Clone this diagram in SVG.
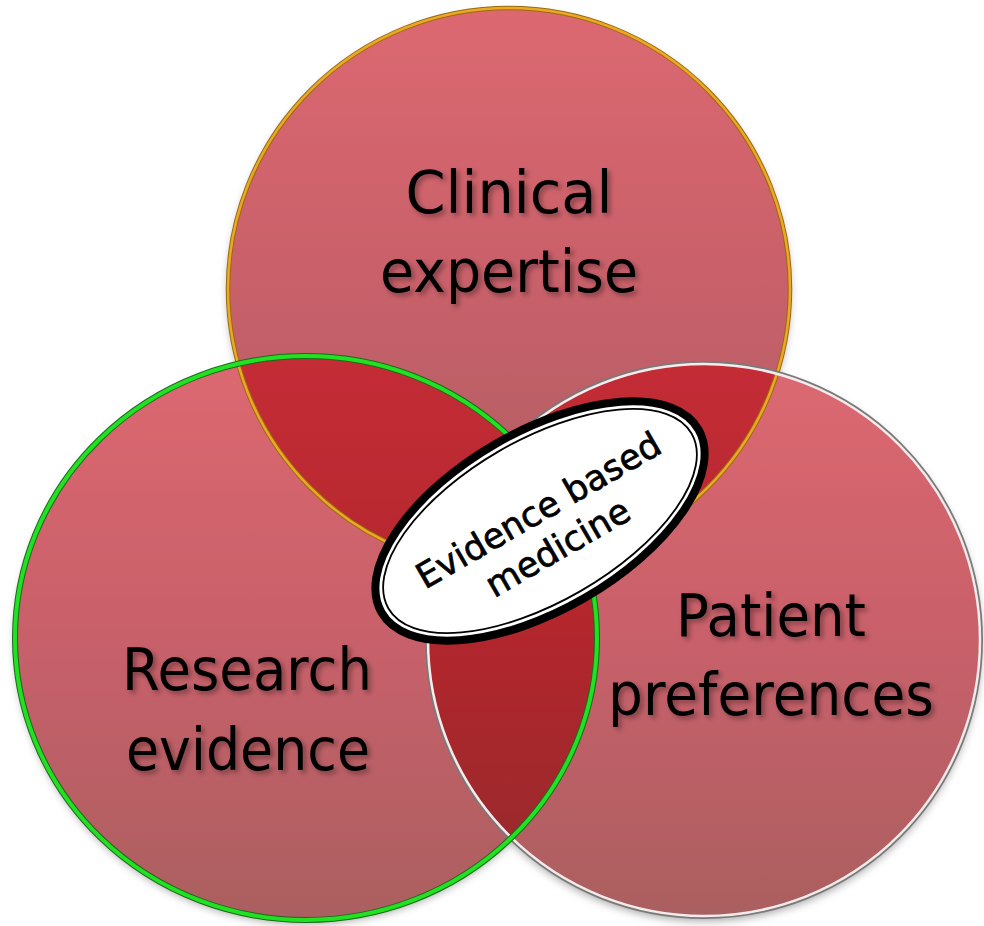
<svg xmlns="http://www.w3.org/2000/svg" width="984" height="926" viewBox="0 0 984 926">
<defs>
<style>
.lbl{font-family:"DejaVu Sans","Liberation Sans",sans-serif;font-size:58px;fill:#000;text-anchor:middle;filter:url(#tshadow)}
.ebm{font-family:"DejaVu Sans","Liberation Sans",sans-serif;font-size:35px;fill:#000;stroke:#000;stroke-width:0.7;text-anchor:middle}
</style>
<linearGradient id="gFill" x1="0" y1="0" x2="0" y2="1">
<stop offset="0" stop-color="#dc6870"/>
<stop offset="0.5" stop-color="#c8606a"/>
<stop offset="1" stop-color="#ab5f60"/>
</linearGradient>
<linearGradient id="gOver" gradientUnits="userSpaceOnUse" x1="0" y1="360" x2="0" y2="900">
<stop offset="0" stop-color="#c42c36"/>
<stop offset="0.5" stop-color="#b2262c"/>
<stop offset="1" stop-color="#952a2c"/>
</linearGradient>
<clipPath id="cTop"><circle cx="509" cy="289" r="281"/></clipPath>
<clipPath id="cLeft"><ellipse cx="306" cy="638" rx="291" ry="282"/></clipPath>
<filter id="tshadow" x="-10%" y="-20%" width="130%" height="150%">
<feDropShadow dx="3" dy="3" stdDeviation="2.5" flood-color="#000" flood-opacity="0.35"/>
</filter>
<filter id="cshadow" x="-10%" y="-10%" width="120%" height="125%">
<feDropShadow dx="0" dy="4" stdDeviation="4" flood-color="#000" flood-opacity="0.35"/>
</filter>
</defs>
<rect width="984" height="926" fill="#fff"/>
<g id="fills" filter="url(#cshadow)">
<circle id="top-fill" cx="509" cy="289" r="281" fill="url(#gFill)"/>
<ellipse id="left-fill" cx="306" cy="638" rx="291" ry="282" fill="url(#gFill)"/>
<circle id="right-fill" cx="704" cy="640" r="277" fill="url(#gFill)"/>
</g>
<g id="overlaps" fill="url(#gOver)">
<g clip-path="url(#cTop)">
<ellipse cx="306" cy="638" rx="291" ry="282"/>
<circle cx="704" cy="640" r="277"/>
</g>
<g clip-path="url(#cLeft)">
<circle cx="704" cy="640" r="277"/>
</g>
</g>
<g id="clinical-expertise">
<circle cx="509" cy="289" r="281" fill="none" stroke="#9a6a10" stroke-width="4.5"/>
<circle cx="509" cy="289" r="281" fill="none" stroke="#eba824" stroke-width="2.5"/>
<text class="lbl" x="509" y="213" textLength="207" lengthAdjust="spacingAndGlyphs">Clinical</text>
<text class="lbl" x="509" y="292" textLength="258" lengthAdjust="spacingAndGlyphs">expertise</text>
</g>
<g id="patient-preferences">
<circle cx="704" cy="640" r="277" fill="none" stroke="#7a7a7a" stroke-width="4"/>
<circle cx="704" cy="640" r="276" fill="none" stroke="#f6eaea" stroke-width="2.5"/>
<text class="lbl" x="771" y="636" textLength="190" lengthAdjust="spacingAndGlyphs">Patient</text>
<text class="lbl" x="771" y="715" textLength="326" lengthAdjust="spacingAndGlyphs">preferences</text>
</g>
<g id="research-evidence">
<ellipse cx="306" cy="638" rx="291" ry="282" fill="none" stroke="#1a6a1a" stroke-width="6"/>
<ellipse cx="306" cy="638" rx="291" ry="282" fill="none" stroke="#22e022" stroke-width="4"/>
<text class="lbl" x="247" y="690" textLength="250" lengthAdjust="spacingAndGlyphs">Research</text>
<text class="lbl" x="248" y="770" textLength="244" lengthAdjust="spacingAndGlyphs">evidence</text>
</g>
<g id="evidence-based-medicine" transform="translate(540 521) rotate(-30)">
<ellipse cx="0" cy="0" rx="183" ry="89" fill="#fff" stroke="#000" stroke-width="8"/>
<ellipse cx="0" cy="0" rx="175" ry="81" fill="none" stroke="#000" stroke-width="1.8"/>
<text class="ebm" x="4" y="2">Evidence based</text>
<text class="ebm" x="2" y="44">medicine</text>
</g>
</svg>
